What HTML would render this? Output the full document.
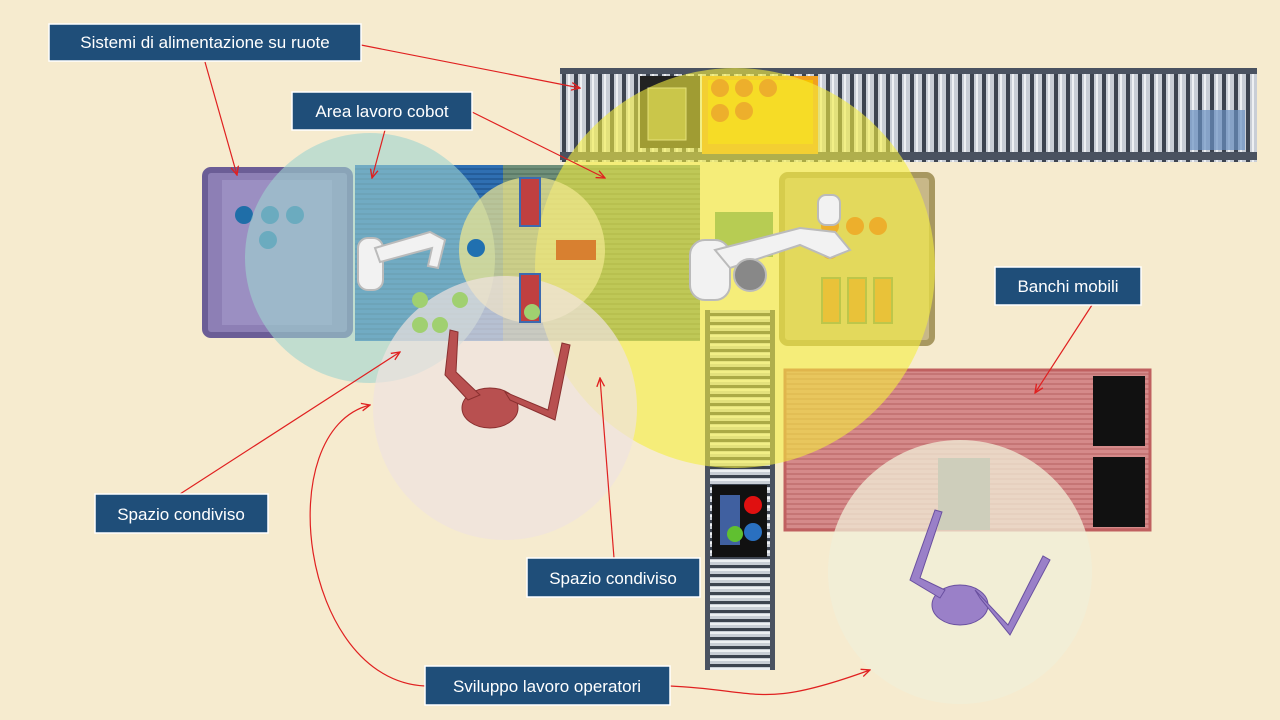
<!DOCTYPE html>
<html><head><meta charset="utf-8"><style>
html,body{margin:0;padding:0;width:1280px;height:720px;overflow:hidden;background:#f6ebcf}
svg{display:block}
text{font-family:"Liberation Sans",sans-serif;font-size:17px;fill:#fff}
</style></head><body>
<svg width="1280" height="720" viewBox="0 0 1280 720" xmlns="http://www.w3.org/2000/svg">
<defs>
<pattern id="rollH" width="12" height="10" patternUnits="userSpaceOnUse"><rect width="12" height="10" fill="#3d4450"/><rect x="2" y="0" width="8" height="10" fill="#c9ced6"/><rect x="4" y="0" width="2" height="10" fill="#eef0f3"/></pattern>
<pattern id="rollV" width="10" height="9" patternUnits="userSpaceOnUse"><rect width="10" height="9" fill="#3d4450"/><rect x="0" y="1" width="10" height="6" fill="#c9ced6"/><rect x="0" y="2" width="10" height="2" fill="#eef0f3"/></pattern>
<pattern id="strB" width="6" height="5" patternUnits="userSpaceOnUse"><rect width="6" height="5" fill="#2f6fb2"/><rect y="3" width="6" height="2" fill="#245d9a"/></pattern>
<pattern id="strG" width="6" height="5" patternUnits="userSpaceOnUse"><rect width="6" height="5" fill="#6f8f7a"/><rect y="3" width="6" height="2" fill="#5d7c68"/></pattern>
<pattern id="strR" width="6" height="5" patternUnits="userSpaceOnUse"><rect width="6" height="5" fill="#d58a8a"/><rect y="3" width="6" height="2" fill="#c57575"/></pattern>
<marker id="ar" viewBox="0 0 10 10" refX="9" refY="5" markerWidth="8" markerHeight="8" orient="auto"><path d="M0,1 L9,5 L0,9" fill="none" stroke="#e02020" stroke-width="1.4"/></marker>
</defs>
<rect width="1280" height="720" fill="#f6ebcf"/>

<!-- top conveyor -->
<rect x="560" y="68" width="697" height="94" fill="url(#rollH)"/>
<rect x="560" y="68" width="697" height="6" fill="#4a5260"/>
<rect x="560" y="152" width="697" height="8" fill="#4a5260"/>
<rect x="640" y="76" width="60" height="72" fill="#222"/>
<rect x="648" y="88" width="38" height="52" fill="#8a8a5a" stroke="#ccc"/>
<rect x="702" y="76" width="116" height="78" fill="#f0a020"/>
<rect x="708" y="80" width="105" height="64" fill="#f7c000"/>
<g fill="#e05010"><circle cx="720" cy="88" r="9"/><circle cx="744" cy="88" r="9"/><circle cx="768" cy="88" r="9"/><circle cx="720" cy="113" r="9"/><circle cx="744" cy="111" r="9"/></g>
<rect x="1190" y="110" width="55" height="40" fill="#6a90c0" opacity=".7"/>

<!-- vertical conveyor -->
<rect x="705" y="310" width="70" height="360" fill="url(#rollV)"/>
<rect x="705" y="310" width="5" height="360" fill="#4a5260"/><rect x="770" y="310" width="5" height="360" fill="#4a5260"/>
<rect x="712" y="485" width="55" height="72" fill="#111"/>
<rect x="720" y="495" width="20" height="50" fill="#4060a0"/>
<circle cx="753" cy="505" r="9" fill="#e01010"/><circle cx="753" cy="532" r="9" fill="#2a70c0"/><circle cx="735" cy="534" r="8" fill="#60c030"/>

<!-- left purple cart -->
<rect x="205" y="170" width="145" height="165" rx="6" fill="#8d7fb5" stroke="#6b5d96" stroke-width="6"/>
<rect x="222" y="180" width="110" height="145" fill="#9b8fc2"/>
<g fill="#1f6ea8"><circle cx="244" cy="215" r="9"/><circle cx="270" cy="215" r="9"/><circle cx="295" cy="215" r="9"/><circle cx="268" cy="240" r="9"/></g>

<!-- blue table -->
<rect x="355" y="165" width="148" height="176" fill="url(#strB)"/>
<!-- green table -->
<rect x="503" y="165" width="197" height="176" fill="url(#strG)"/>

<!-- right beige cart -->
<rect x="782" y="175" width="150" height="168" rx="6" fill="#c8b888" stroke="#a89860" stroke-width="6"/>
<rect x="715" y="212" width="58" height="45" fill="#5a9a70"/>
<g fill="#e05010"><circle cx="830" cy="226" r="9"/><circle cx="855" cy="226" r="9"/><circle cx="878" cy="226" r="9"/><circle cx="830" cy="250" r="9"/></g>
<g fill="#d88030" stroke="#6a8a5a" stroke-width="2"><rect x="822" y="278" width="18" height="45"/><rect x="848" y="278" width="18" height="45"/><rect x="874" y="278" width="18" height="45"/></g>

<!-- red table -->
<rect x="785" y="370" width="365" height="160" fill="url(#strR)" stroke="#c06060" stroke-width="3"/>
<rect x="1093" y="376" width="52" height="70" fill="#111"/><rect x="1093" y="457" width="52" height="70" fill="#111"/>
<rect x="938" y="458" width="52" height="72" fill="#6a6e66"/>

<!-- circles -->
<circle cx="370" cy="258" r="125" fill="#9fd3cf" opacity=".6"/>
<circle cx="735" cy="268" r="200" fill="#f5ee40" opacity=".6"/>
<circle cx="532" cy="250" r="73" fill="#f2e890" opacity=".7"/>
<circle cx="505" cy="408" r="132" fill="#f0e2e0" opacity=".7"/>
<circle cx="960" cy="572" r="132" fill="#f0efd8" opacity=".75"/>

<!-- small items on tables -->
<rect x="520" y="178" width="20" height="48" fill="#c04040" stroke="#3c6ab0" stroke-width="2"/>
<rect x="520" y="274" width="20" height="48" fill="#c04040" stroke="#3c6ab0" stroke-width="2"/>
<rect x="556" y="240" width="40" height="20" fill="#d88030"/>
<circle cx="476" cy="248" r="9" fill="#2070b0"/>
<g fill="#a0d070"><circle cx="420" cy="300" r="8"/><circle cx="460" cy="300" r="8"/><circle cx="420" cy="325" r="8"/><circle cx="440" cy="325" r="8"/><circle cx="532" cy="312" r="8"/></g>

<!-- cobots -->
<g fill="#f2f2f2" stroke="#bbb" stroke-width="2">
<rect x="358" y="238" width="25" height="52" rx="10"/>
<path d="M375,248 L430,232 L445,240 L438,268 L428,266 L432,248 L380,262Z"/>
<rect x="690" y="240" width="40" height="60" rx="15"/>
<path d="M715,250 L800,228 L835,232 L850,250 L830,258 L800,245 L730,268Z"/>
<rect x="818" y="195" width="22" height="30" rx="8"/>
<circle cx="750" cy="275" r="16" fill="#888"/>
</g>

<!-- operators -->
<g fill="#b85050" stroke="#8a3030" stroke-width="1">
<ellipse cx="490" cy="408" rx="28" ry="20"/>
<path d="M468,400 L445,375 L450,330 L458,332 L456,372 L480,395Z"/>
<path d="M510,400 L555,420 L570,345 L562,343 L548,410 L505,392Z"/>
</g>
<g fill="#9a80c8" stroke="#6a50a0" stroke-width="1">
<ellipse cx="960" cy="605" rx="28" ry="20"/>
<path d="M940,598 L910,580 L935,510 L942,512 L920,578 L945,590Z"/>
<path d="M980,598 L1010,635 L1050,560 L1043,556 L1008,625 L975,590Z"/>
</g>

<!-- connectors -->
<g fill="none" stroke="#e02020" stroke-width="1.2" marker-end="url(#ar)">
<path d="M205,62 L237,175"/>
<path d="M361,45 L580,88"/>
<path d="M385,130 L372,178"/>
<path d="M472,112 L605,178"/>
<path d="M1092,305 L1035,393"/>
<path d="M180,494 L400,352"/>
<path d="M614,558 L600,378"/>
<path d="M425,686 C300,680 270,430 370,405"/>
<path d="M670,686 C760,690 760,710 870,670"/>
</g>

<!-- labels -->
<g stroke="#fff" stroke-width="1.5" fill="#1f4e79">
<rect x="49" y="24" width="312" height="37"/>
<rect x="292" y="92" width="180" height="38"/>
<rect x="995" y="267" width="146" height="38"/>
<rect x="95" y="494" width="173" height="39"/>
<rect x="527" y="558" width="173" height="39"/>
<rect x="425" y="666" width="245" height="39"/>
</g>
<text x="205" y="48" text-anchor="middle">Sistemi di alimentazione su ruote</text>
<text x="382" y="117" text-anchor="middle">Area lavoro cobot</text>
<text x="1068" y="292" text-anchor="middle">Banchi mobili</text>
<text x="181" y="520" text-anchor="middle">Spazio condiviso</text>
<text x="613" y="584" text-anchor="middle">Spazio condiviso</text>
<text x="547" y="692" text-anchor="middle">Sviluppo lavoro operatori</text>
</svg>
</body></html>
